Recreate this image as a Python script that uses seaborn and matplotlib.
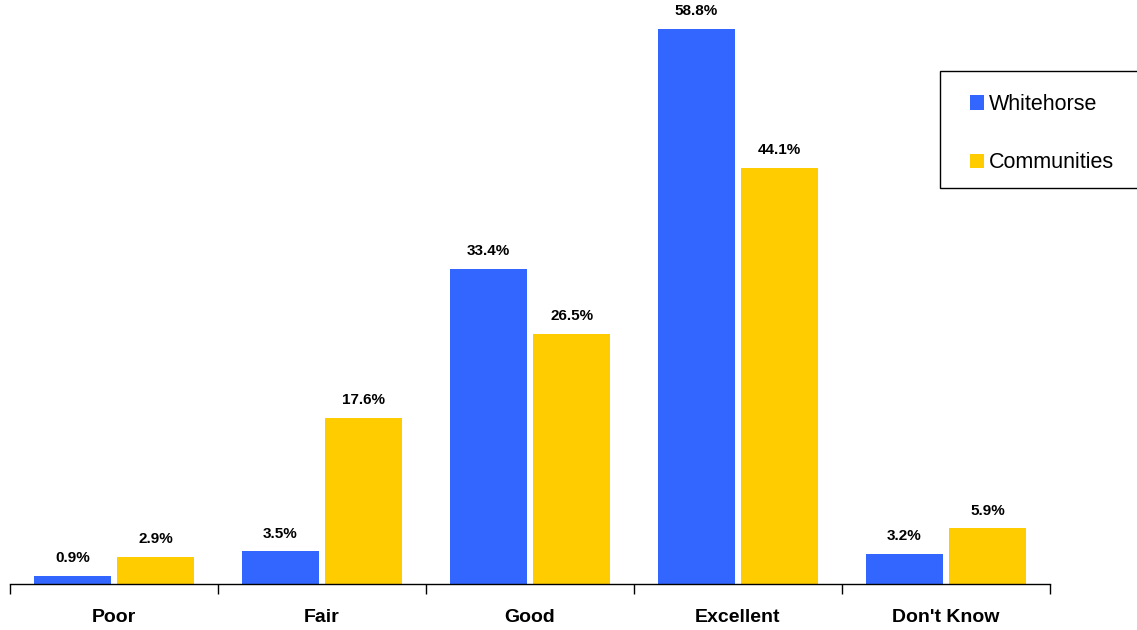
import matplotlib
matplotlib.use("Agg")
import matplotlib.pyplot as plt
import seaborn as sns
import pandas as pd
from matplotlib.patches import Patch, Rectangle
from matplotlib.legend_handler import HandlerPatch
from matplotlib.ticker import FixedLocator

categories = ["Poor", "Fair", "Good", "Excellent", "Don't Know"]
series_names = ["Whitehorse", "Communities"]
whitehorse = [0.9, 3.5, 33.4, 58.8, 3.2]
communities = [2.9, 17.6, 26.5, 44.1, 5.9]
colors = ["#3366FF", "#FFCC00"]

df = pd.DataFrame({
    "category": categories * 2,
    "series": [series_names[0]] * len(categories) + [series_names[1]] * len(categories),
    "value": whitehorse + communities,
})

sns.set_theme(style="white")
plt.rcParams["font.family"] = ["Liberation Sans", "DejaVu Sans"]

fig = plt.figure(figsize=(11.37, 6.3), dpi=100)
ax = fig.add_axes([10 / 1137, 46 / 630, 1040 / 1137, 584 / 630])

sns.barplot(data=df, x="category", y="value", hue="series", order=categories,
            hue_order=series_names, palette=colors, width=0.8, gap=0.075,
            saturation=1, ax=ax, legend=False, linewidth=0, edgecolor="none")

for cont in ax.containers:
    ax.bar_label(cont, fmt="%.1f%%", padding=7.5, fontsize=11, fontweight="bold", color="black")

ax.set_xlim(-0.5, 4.5)
ax.set_ylim(0, 61.86)
ax.set_xlabel("")
ax.set_ylabel("")
ax.set_yticks([])
for s in ["top", "right", "left"]:
    ax.spines[s].set_visible(False)
ax.spines["bottom"].set_color("black")
ax.spines["bottom"].set_linewidth(1)

ax.tick_params(axis="x", which="major", length=0, pad=18, labelsize=14, labelcolor="black")
for lbl in ax.get_xticklabels():
    lbl.set_fontweight("bold")
ax.xaxis.set_minor_locator(FixedLocator([-0.5, 0.5, 1.5, 2.5, 3.5, 4.5]))
ax.tick_params(axis="x", which="minor", bottom=True, length=7, width=1, color="black", direction="out")


def square_patch(legend, orig_handle, xdescent, ydescent, width, height, fontsize):
    return Rectangle((-xdescent + width - height, -ydescent), height, height)


# legend box frame
fig.patches.append(Rectangle((939.5 / 1137, 1 - 187.5 / 630), 210 / 1137, 117 / 630,
                             transform=fig.transFigure, facecolor="white",
                             edgecolor="black", linewidth=1, zorder=3))

handles = [Patch(facecolor=c, edgecolor="none") for c in colors]
leg = fig.legend(handles, series_names, loc="upper left",
                 bbox_to_anchor=(939 / 1137, 1 - 190 / 630, 260 / 1137, 117 / 630),
                 mode="expand", borderaxespad=0, frameon=False,
                 fontsize=15.5, labelspacing=1.74, handlelength=1.12, handleheight=0.65,
                 handletextpad=0.25, borderpad=0.97, labelcolor="black",
                 handler_map={Patch: HandlerPatch(patch_func=square_patch)})
leg.set_zorder(4)

fig.savefig("out.png", dpi=100)
